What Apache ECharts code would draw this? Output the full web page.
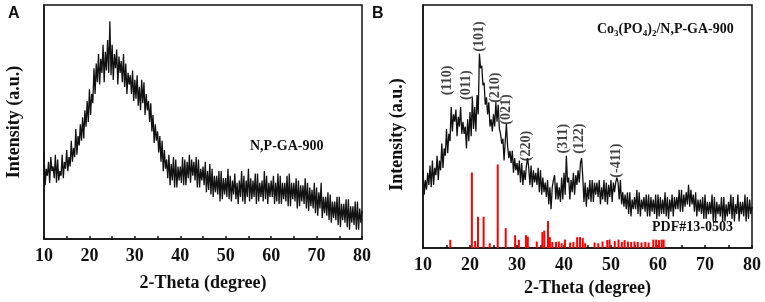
<!DOCTYPE html>
<html>
<head>
<meta charset="utf-8">
<script src="https://cdn.jsdelivr.net/npm/echarts@6/dist/echarts.min.js"></script>
<style>html,body{margin:0;padding:0;background:#fff}#chart{width:765px;height:302px}</style>
</head>
<body>
<div id="chart"></div>
<script>
// 2-theta scan grid (degrees)
var thetaStart = 10, thetaStep = 0.25;

// panel A: N,P-GA-900 (a.u.)
var intensityA = [
  37,23,30,27, 33,24,35,29, 31,26,36,24, 34,25,29,27, 36,26,33,30,
  38,29,35,31, 42,33,39,35, 47,36,44,40, 49,42,52,43, 55,48,59,50,
  64,53,62,58, 73,62,75,67, 79,66,77,71, 83,67,80,72, 85,71,93,70,
  83,68,79,73, 81,66,78,71, 76,67,79,65, 75,62,71,66, 70,62,72,59,
  68,60,70,57, 65,55,68,58, 67,53,62,55, 59,50,58,46, 53,41,49,42,
  46,37,44,33, 42,29,38,30, 34,26,36,23, 32,25,35,22, 34,22,31,25,
  31,24,35,23, 34,23,33,26, 36,24,34,27, 33,25,35,22, 34,22,30,25,
  31,23,33,20, 29,21,32,19, 30,18,27,20, 27,19,29,16, 29,17,26,19,
  26,18,30,17, 27,16,25,19, 28,17,24,15, 25,18,29,16, 27,15,25,18,
  30,16,26,17, 25,18,28,15, 28,16,24,18, 25,16,29,17, 27,15,24,18,
  25,18,27,15, 24,16,28,15, 27,15,24,17, 24,16,27,14, 28,14,24,17,
  24,16,26,13, 25,14,23,16, 23,15,26,13, 24,12,22,14, 21,13,24,11,
  22,10,20,13, 24,9,18,11, 18,10,20,8, 19,7,16,9, 16,8,18,6,
  18,5,15,8, 15,7,17,5, 17,4,14,7, 14,6,16,4, 16,4,13,7,
  12
];

// panel B: Co3(PO4)2/N,P-GA-900 (a.u.)
var intensityB = [
  32,22,28,24, 31,26,34,25, 36,26,33,30, 38,28,36,32, 43,33,41,38,
  49,39,47,44, 58,48,55,52, 57,46,54,50, 58,47,52,47, 50,41,53,44,
  56,46,62,49, 58,48,63,55, 80,74,75,67, 68,59,62,55, 60,50,53,48,
  55,50,60,52, 59,49,47,43, 45,36,44,51, 42,37,40,35, 40,31,37,32,
  35,30,36,27, 35,26,32,28, 34,37,33,26, 34,25,32,27, 31,26,33,23,
  32,22,29,23, 27,21,28,18, 25,16,25,28, 30,20,27,20, 25,19,29,20,
  31,22,38,27, 29,20,28,23, 31,22,30,26, 32,27,35,37, 29,19,27,17,
  25,20,28,19, 28,19,27,22, 27,21,28,18, 25,20,28,19, 27,18,26,21,
  28,19,27,23, 27,29,27,20, 28,18,23,17, 22,16,23,14, 23,13,20,16,
  21,16,24,14, 23,13,20,16, 21,15,22,13, 22,13,21,15, 20,14,22,12,
  22,13,21,14, 20,14,23,13, 21,12,20,15, 22,13,21,16, 21,16,24,15,
  24,15,22,17, 23,18,26,17, 24,18,22,15, 23,13,20,15, 20,14,21,12,
  22,12,19,14, 19,14,22,11, 21,11,19,14, 18,13,21,11, 21,11,18,13,
  19,14,22,12, 21,11,18,14, 22,11,19,14, 19,13,22,11, 21,12,20,14,
  17
];

// PDF#13-0503 reference lines
var pdfTheta = [15.8,20.4,21.1,21.7,22.9,24.2,25.9,27.6,29.6,30.4,31.9,32.3,34.2,35.4,35.8,36.6,37.0,37.5,38.3,38.9,
  39.5,40.2,41.3,42.0,42.8,43.4,44.0,44.5,46.5,47.3,48.2,49.2,49.7,50.8,51.6,52.3,52.9,53.6,54.3,55.0,
  55.7,56.5,57.3,58.0,59.0,59.6,60.2,60.8,61.2];
var pdfHeight = [3.4,31.1,2.9,12.9,12.9,2.0,34.4,8.2,5.3,3.4,5.3,4.7,2.7,6.6,7.2,11.1,4.5,2.5,2.5,2.7,
  2.0,3.5,2.3,2.5,4.5,4.5,4.1,2.0,2.3,2.0,2.7,3.3,3.5,2.9,3.5,2.5,3.3,2.7,2.5,2.7,
  2.5,2.3,2.5,2.3,3.5,3.5,3.3,3.5,3.5];

// indexed peaks
var peakNames = ['(110)','(011)','(101)','(210)','(021)','(220)','(311)','(122)','(-411)'];
var peakTheta = [15.1,19.3,21.9,25.3,27.8,32.1,39.9,43.3,51.2];
var peakLabelY = [69,67,87,66,57,42,45,45,36];

var xTicks = [10,20,30,40,50,60,70,80];

function scan(arr) {
  return arr.map(function (v, i) { return [thetaStart + i * thetaStep, v]; });
}

var serif = "'Liberation Serif', 'Times New Roman', serif";
var myChart = echarts.init(document.getElementById('chart'));

function xAxisFor(gi, gap) {
  return {
    gridIndex: gi, type: 'value', min: xTicks[0], max: xTicks[xTicks.length - 1], interval: 10,
    name: '2-Theta (degree)', nameLocation: 'middle', nameGap: gap,
    nameTextStyle: {fontFamily: serif, fontWeight: 'bold', fontSize: 18, color: '#111'},
    axisLine: {show: true, lineStyle: {color: '#111', width: 1.5}},
    axisTick: {show: true, inside: true, length: 3, lineStyle: {color: '#111', width: 1.5}},
    minorTick: {show: true, splitNumber: 2, length: 3, lineStyle: {color: '#111', width: 1.5}},
    axisLabel: {fontFamily: serif, fontWeight: 'bold', fontSize: 18, color: '#111', margin: 8},
    splitLine: {show: false}
  };
}
function yAxisFor(gi, gap, pad) {
  return {
    gridIndex: gi, type: 'value', min: 0, max: 100,
    name: 'Intensity (a.u.)', nameLocation: 'middle', nameGap: gap,
    nameTextStyle: {fontFamily: serif, fontWeight: 'bold', fontSize: 18, color: '#111', padding: pad},
    axisLine: {show: true, lineStyle: {color: '#111', width: 1.5}},
    axisTick: {show: false}, axisLabel: {show: false}, splitLine: {show: false}
  };
}

var option = {
  animation: false,
  grid: [
    {left: 44, top: 5, width: 318, height: 234, show: true, borderColor: '#111', borderWidth: 1.5},
    {left: 423, top: 5, width: 329, height: 244, show: true, borderColor: '#111', borderWidth: 1.5}
  ],
  xAxis: [xAxisFor(0, 35), xAxisFor(1, 29)],
  yAxis: [yAxisFor(0, 21, 0), yAxisFor(1, 17, [0, 16, 0, 0])],
  graphic: [
    {type: 'text', left: 8, top: 6, style: {text: 'A', font: "bold 16px 'Liberation Sans', Arial, sans-serif", fill: '#111'}},
    {type: 'text', left: 372, top: 6, style: {text: 'B', font: "bold 16px 'Liberation Sans', Arial, sans-serif", fill: '#111'}},
    {type: 'text', left: 250, top: 139, style: {text: 'N,P-GA-900', font: 'bold 14px ' + serif, fill: '#111'}},
    {type: 'text', left: 597, top: 22, style: {
      text: '{n|Co}{s|3}{n|(PO}{s|4}{n|)}{s|2}{n|/N,P-GA-900}',
      rich: {
        n: {fontFamily: serif, fontWeight: 'bold', fontSize: 14, fill: '#111', lineHeight: 18},
        s: {fontFamily: serif, fontWeight: 'bold', fontSize: 9, fill: '#111', lineHeight: 18, verticalAlign: 'bottom', padding: [6, 0, 0, 0]}
      }
    }},
    {type: 'text', left: 652, top: 220, style: {text: 'PDF#13-0503', font: 'bold 14px ' + serif, fill: '#111'}}
  ],
  series: [
    {
      type: 'line', xAxisIndex: 0, yAxisIndex: 0, data: scan(intensityA),
      showSymbol: false, lineStyle: {color: '#111', width: 1.3}
    },
    {
      type: 'bar', xAxisIndex: 1, yAxisIndex: 1, barWidth: 2,
      data: pdfTheta.map(function (t, i) { return [t, pdfHeight[i]]; }),
      itemStyle: {color: '#ff0000'}
    },
    {
      type: 'line', xAxisIndex: 1, yAxisIndex: 1, data: scan(intensityB),
      showSymbol: false, lineStyle: {color: '#111', width: 1.3}
    },
    {
      type: 'scatter', xAxisIndex: 1, yAxisIndex: 1, symbolSize: 0,
      data: peakNames.map(function (n, i) { return {name: n, value: [peakTheta[i], peakLabelY[i]]}; }),
      label: {show: true, position: 'inside', rotate: 90, formatter: '{b}',
        fontFamily: serif, fontWeight: 'bold', fontSize: 14, color: '#111'}
    }
  ]
};
myChart.setOption(option);
</script>
</body>
</html>
